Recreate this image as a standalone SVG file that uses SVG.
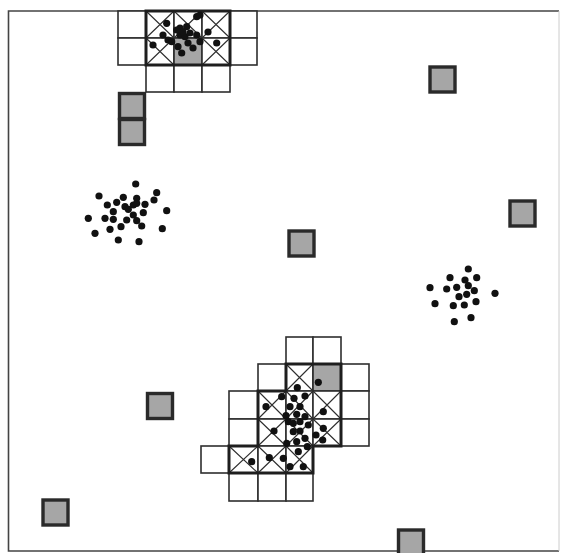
<svg xmlns="http://www.w3.org/2000/svg" width="561" height="553" viewBox="0 0 561 553">
<defs>
<style>
.c{fill:#fff;stroke:#2e2e2e;stroke-width:1.6}
.x{stroke:#2e2e2e;stroke-width:1.1;fill:none}
.g{fill:#a6a6a6;stroke:#2a2a2a;stroke-width:1.6}
.gs{fill:#a6a6a6;stroke:#2a2a2a;stroke-width:3.4}
.t{fill:none;stroke:#1e1e1e;stroke-width:3;stroke-linejoin:miter}
.d circle{fill:#111;r:3.6px}
</style>
</defs>
<rect width="561" height="553" fill="#fff"/>
<g id="frame">
<path d="M559 11 H8.5 V551 H559" fill="none" stroke="#444" stroke-width="1.6"/>
<path d="M559 11 V551" fill="none" stroke="#ccc" stroke-width="1"/>
</g>

<g id="cluster-top">
<rect class="c" x="118" y="11" width="28" height="27"/>
<rect class="c" x="146" y="11" width="28" height="27"/>
<rect class="c" x="174" y="11" width="28" height="27"/>
<rect class="c" x="202" y="11" width="28" height="27"/>
<rect class="c" x="230" y="11" width="27" height="27"/>
<rect class="c" x="118" y="38" width="28" height="27"/>
<rect class="c" x="146" y="38" width="28" height="27"/>
<rect class="g" x="174" y="38" width="28" height="27"/>
<rect class="c" x="202" y="38" width="28" height="27"/>
<rect class="c" x="230" y="38" width="27" height="27"/>
<rect class="c" x="146" y="65" width="28" height="27"/>
<rect class="c" x="174" y="65" width="28" height="27"/>
<rect class="c" x="202" y="65" width="28" height="27"/>
<path class="x" d="M146 11 L174 38 M174 11 L146 38 M174 11 L202 38 M202 11 L174 38 M202 11 L230 38 M230 11 L202 38 M146 38 L174 65 M174 38 L146 65 M202 38 L230 65 M230 38 L202 65"/>
<rect class="t" x="146" y="11" width="84" height="54"/>
<g class="d">
<circle cx="166.7" cy="23.3" r="3.6"/><circle cx="180" cy="28" r="3.6"/><circle cx="186.7" cy="26.7" r="3.6"/>
<circle cx="196.7" cy="16.7" r="3.6"/><circle cx="200" cy="15" r="3.6"/><circle cx="208" cy="32" r="3.6"/>
<circle cx="163" cy="35" r="3.6"/><circle cx="168" cy="40" r="3.6"/><circle cx="171.7" cy="41.7" r="3.6"/>
<circle cx="180" cy="35" r="3.6"/><circle cx="185" cy="36.7" r="3.6"/><circle cx="190" cy="33" r="3.6"/>
<circle cx="196.7" cy="35" r="3.6"/><circle cx="188" cy="43" r="3.6"/><circle cx="193" cy="48" r="3.6"/>
<circle cx="200" cy="41.7" r="3.6"/><circle cx="153" cy="45" r="3.6"/><circle cx="178" cy="46.7" r="3.6"/>
<circle cx="181.7" cy="53" r="3.6"/><circle cx="216.7" cy="43" r="3.6"/><circle cx="176.7" cy="30" r="3.6"/>
<circle cx="183" cy="32" r="3.6"/>
</g>
</g>

<g id="grey-1"><rect class="gs" x="119.5" y="93.5" width="25" height="25"/></g>
<g id="grey-2"><rect class="gs" x="119.5" y="119.5" width="25" height="25"/></g>
<g id="grey-3"><rect class="gs" x="430" y="67" width="25" height="25"/></g>
<g id="grey-4"><rect class="gs" x="510" y="201" width="25" height="25"/></g>
<g id="grey-5"><rect class="gs" x="289" y="231" width="25" height="25"/></g>
<g id="grey-6"><rect class="gs" x="147.5" y="393.5" width="25" height="25"/></g>
<g id="grey-7"><rect class="gs" x="43" y="500" width="25" height="25"/></g>
<g id="grey-8"><rect class="gs" x="398.5" y="530" width="25" height="25"/></g>

<g id="cluster-left" class="d">
<circle cx="135.7" cy="184" r="3.6"/><circle cx="99" cy="196" r="3.6"/><circle cx="123.3" cy="197.3" r="3.6"/>
<circle cx="136.7" cy="198.3" r="3.6"/><circle cx="156.7" cy="192.7" r="3.6"/><circle cx="154" cy="200" r="3.6"/>
<circle cx="107.3" cy="205" r="3.6"/><circle cx="116.7" cy="202.3" r="3.6"/><circle cx="125" cy="206.7" r="3.6"/>
<circle cx="133.3" cy="205" r="3.6"/><circle cx="136.7" cy="203.3" r="3.6"/><circle cx="145" cy="204.3" r="3.6"/>
<circle cx="113.3" cy="211.7" r="3.6"/><circle cx="143.3" cy="212.7" r="3.6"/><circle cx="166.7" cy="210.7" r="3.6"/>
<circle cx="88.3" cy="218.3" r="3.6"/><circle cx="105" cy="218.3" r="3.6"/><circle cx="113.3" cy="219.3" r="3.6"/>
<circle cx="133.3" cy="215" r="3.6"/><circle cx="126.7" cy="220" r="3.6"/><circle cx="136.7" cy="220.7" r="3.6"/>
<circle cx="141.7" cy="226" r="3.6"/><circle cx="121" cy="226.7" r="3.6"/><circle cx="110" cy="229.3" r="3.6"/>
<circle cx="162.3" cy="228.7" r="3.6"/><circle cx="95" cy="233.3" r="3.6"/><circle cx="118.3" cy="240" r="3.6"/>
<circle cx="139" cy="241.7" r="3.6"/><circle cx="128.3" cy="209.3" r="3.6"/>
</g>

<g id="cluster-right" class="d">
<circle cx="468.3" cy="269" r="3.6"/><circle cx="450" cy="277.7" r="3.6"/><circle cx="465" cy="280" r="3.6"/>
<circle cx="476.7" cy="277.7" r="3.6"/><circle cx="430" cy="287.7" r="3.6"/><circle cx="446.7" cy="289" r="3.6"/>
<circle cx="456.7" cy="287.3" r="3.6"/><circle cx="468.3" cy="285.7" r="3.6"/><circle cx="474.3" cy="290.7" r="3.6"/>
<circle cx="495" cy="293.3" r="3.6"/><circle cx="459" cy="296.7" r="3.6"/><circle cx="466.7" cy="294.3" r="3.6"/>
<circle cx="435" cy="303.7" r="3.6"/><circle cx="453.3" cy="305.7" r="3.6"/><circle cx="464.3" cy="305" r="3.6"/>
<circle cx="476" cy="301.7" r="3.6"/><circle cx="454.3" cy="321.7" r="3.6"/><circle cx="471" cy="317.7" r="3.6"/>
</g>

<g id="cluster-bottom">
<rect class="c" x="286" y="337" width="27" height="27"/>
<rect class="c" x="313" y="337" width="28" height="27"/>
<rect class="c" x="258" y="364" width="28" height="27"/>
<rect class="c" x="286" y="364" width="27" height="27"/>
<rect class="g" x="313" y="364" width="28" height="27"/>
<rect class="c" x="341" y="364" width="28" height="27"/>
<rect class="c" x="229" y="391" width="29" height="28"/>
<rect class="c" x="258" y="391" width="28" height="28"/>
<rect class="c" x="286" y="391" width="27" height="28"/>
<rect class="c" x="313" y="391" width="28" height="28"/>
<rect class="c" x="341" y="391" width="28" height="28"/>
<rect class="c" x="229" y="419" width="29" height="27"/>
<rect class="c" x="258" y="419" width="28" height="27"/>
<rect class="c" x="286" y="419" width="27" height="27"/>
<rect class="c" x="313" y="419" width="28" height="27"/>
<rect class="c" x="341" y="419" width="28" height="27"/>
<rect class="c" x="201" y="446" width="28" height="27"/>
<rect class="c" x="229" y="446" width="29" height="27"/>
<rect class="c" x="258" y="446" width="28" height="27"/>
<rect class="c" x="286" y="446" width="27" height="27"/>
<rect class="c" x="229" y="473" width="29" height="28"/>
<rect class="c" x="258" y="473" width="28" height="28"/>
<rect class="c" x="286" y="473" width="27" height="28"/>
<path class="x" d="M286 364 L313 391 M313 364 L286 391 M258 391 L286 419 M286 391 L258 419 M286 391 L313 419 M313 391 L286 419 M313 391 L341 419 M341 391 L313 419 M258 419 L286 446 M286 419 L258 446 M286 419 L313 446 M313 419 L286 446 M313 419 L341 446 M341 419 L313 446 M229 446 L258 473 M258 446 L229 473 M258 446 L286 473 M286 446 L258 473 M286 446 L313 473 M313 446 L286 473"/>
<path class="t" d="M286 364 H341 V446 H313 V473 H229 V446 H258 V391 H286 Z"/>
<g class="d">
<circle cx="318.3" cy="382.3" r="3.6"/><circle cx="297.3" cy="387.7" r="3.6"/><circle cx="305" cy="396" r="3.6"/>
<circle cx="281.7" cy="396.7" r="3.6"/><circle cx="294" cy="398.3" r="3.6"/><circle cx="266" cy="406.7" r="3.6"/>
<circle cx="290" cy="406.7" r="3.6"/><circle cx="300" cy="406.7" r="3.6"/><circle cx="323.3" cy="411.7" r="3.6"/>
<circle cx="286" cy="415.7" r="3.6"/><circle cx="296.7" cy="414.3" r="3.6"/><circle cx="305" cy="416.7" r="3.6"/>
<circle cx="288.3" cy="421.7" r="3.6"/><circle cx="293.3" cy="423.3" r="3.6"/><circle cx="300" cy="421.7" r="3.6"/>
<circle cx="308.3" cy="425" r="3.6"/><circle cx="274" cy="431" r="3.6"/><circle cx="293.3" cy="431.7" r="3.6"/>
<circle cx="300" cy="431" r="3.6"/><circle cx="316" cy="435" r="3.6"/><circle cx="323.3" cy="428.3" r="3.6"/>
<circle cx="305" cy="438.3" r="3.6"/><circle cx="322.7" cy="440" r="3.6"/><circle cx="286.7" cy="443.3" r="3.6"/>
<circle cx="296.7" cy="441.7" r="3.6"/><circle cx="307.3" cy="446.7" r="3.6"/><circle cx="298.3" cy="451.7" r="3.6"/>
<circle cx="269.3" cy="457.7" r="3.6"/><circle cx="283.3" cy="458.3" r="3.6"/><circle cx="251.7" cy="461.7" r="3.6"/>
<circle cx="290" cy="466.7" r="3.6"/><circle cx="303.3" cy="466.7" r="3.6"/>
</g>
</g>
</svg>
